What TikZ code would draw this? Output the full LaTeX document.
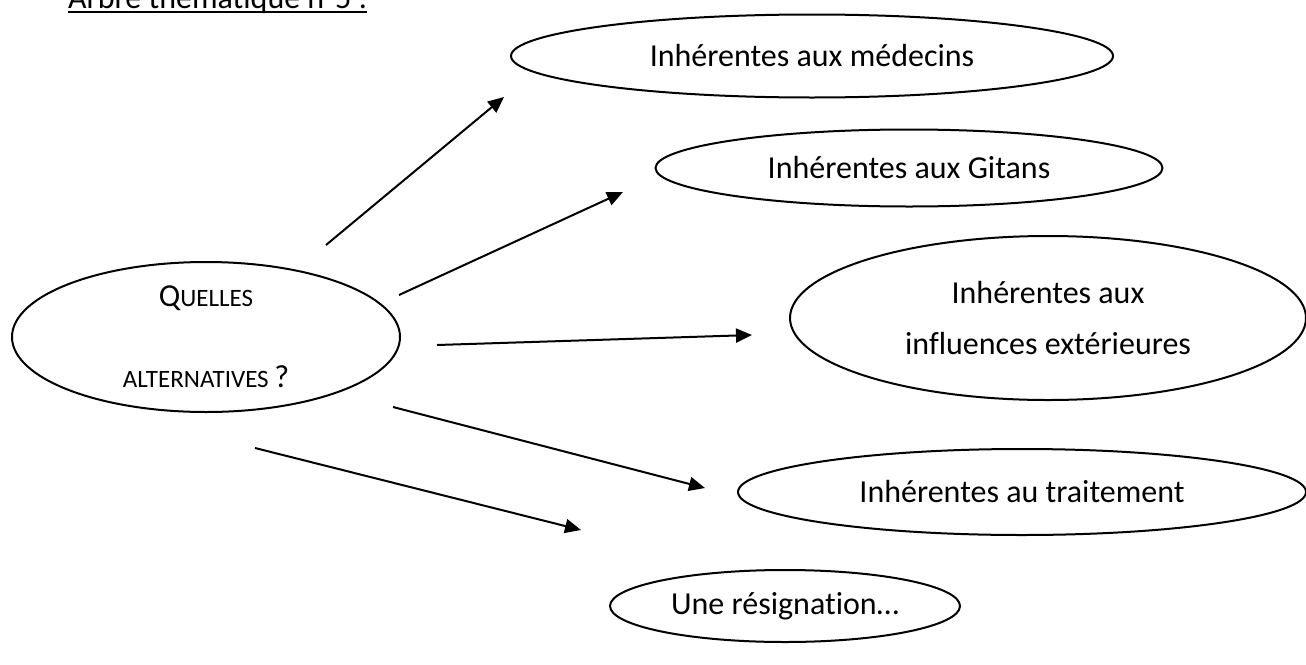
\documentclass[tikz,border=0pt]{standalone}
\usepackage{fontspec}
\setmainfont[Ligatures=NoCommon]{Carlito}
\usetikzlibrary{shapes.geometric,arrows.meta}
\begin{document}
\begin{tikzpicture}[x=1pt,y=-1pt,
  bubble/.style={draw, ellipse, line width=2pt, inner sep=0pt, align=center,
    font=\fontsize{32}{39}\selectfont},
  link/.style={line width=2pt, -{Triangle[length=16pt,width=14pt]}},
  titletext/.style={anchor=base west, inner sep=0pt, font=\fontsize{32}{39}\selectfont}
]
\useasboundingbox (0,0) rectangle (1306,664);

% title (cut at top edge)
\node[titletext] (title) at (68,8) {Arbre thématique n°5 :};
\draw[line width=2.5pt] ([yshift=-4pt]title.base west) -- ([yshift=-4pt]title.base east);

% central node
\node[bubble, minimum width=388pt, minimum height=150pt] (q) at (206,337)
  {{\fontsize{32}{39}\selectfont Q}{\fontsize{25}{39}\selectfont UELLES}\\[42pt]{\fontsize{25}{39}\selectfont ALTERNATIVES }?};

% targets
\node[bubble, minimum width=602pt, minimum height=83pt] (med) at (812,56) {Inhérentes aux médecins};
\node[bubble, minimum width=507pt, minimum height=77pt] (git) at (909,168) {Inhérentes aux Gitans};
\node[bubble, minimum width=516pt, minimum height=164pt] (ext) at (1048,318) {Inhérentes aux\\[12pt]influences extérieures};
\node[bubble, minimum width=568pt, minimum height=86pt] (trt) at (1022,492) {Inhérentes au traitement};
\node[bubble, minimum width=350pt, minimum height=72pt] (res) at (785,606) {Une résignation…};

% arrow ends
\coordinate (s1) at (326,245); \coordinate (e1) at (504,97);
\coordinate (s2) at (399,295); \coordinate (e2) at (623,192);
\coordinate (s3) at (437,345); \coordinate (e3) at (752,335);
\coordinate (s4) at (393,407); \coordinate (e4) at (705,488);
\coordinate (s5) at (255,448); \coordinate (e5) at (581,530);

\draw[link] (s1) -- (e1);
\draw[link] (s2) -- (e2);
\draw[link] (s3) -- (e3);
\draw[link] (s4) -- (e4);
\draw[link] (s5) -- (e5);
\end{tikzpicture}
\end{document}
